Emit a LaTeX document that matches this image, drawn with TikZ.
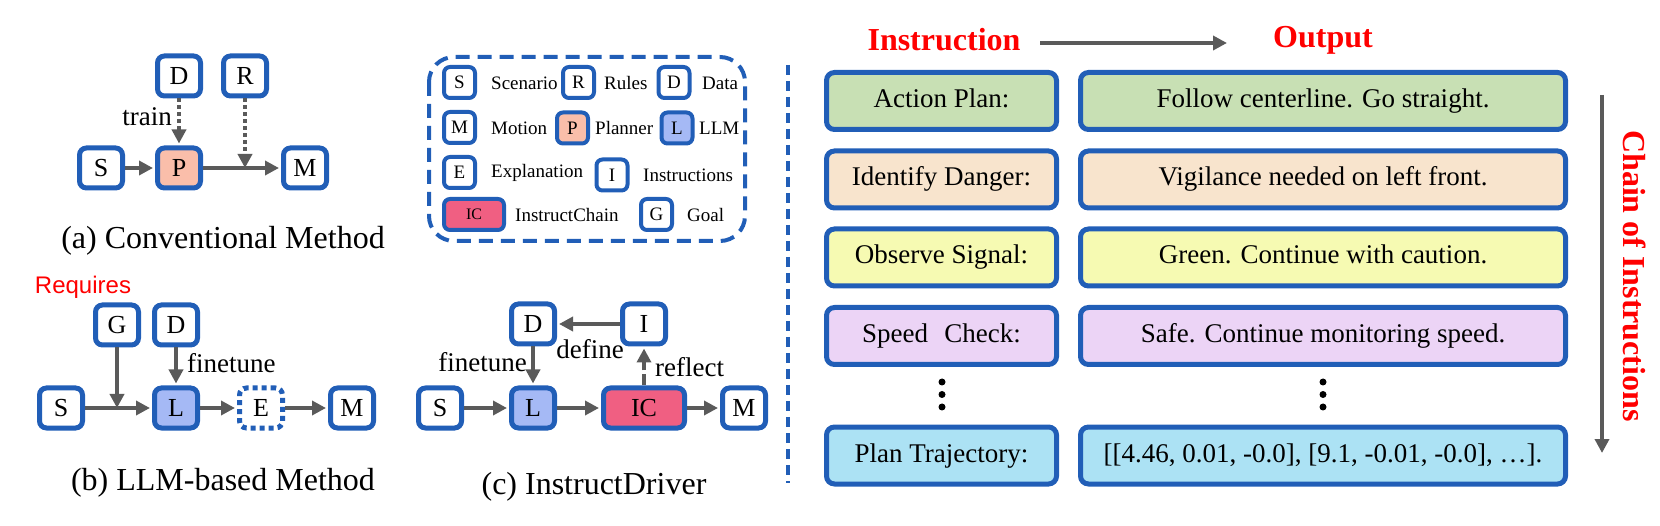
\documentclass[tikz,border=0pt]{standalone}
\usepackage{fontspec}
\setmainfont{Liberation Serif}
\newfontfamily\sansfam{Liberation Sans}
\usetikzlibrary{arrows.meta}
\definecolor{bblue}{RGB}{33,94,183}
\definecolor{agray}{RGB}{90,90,90}
\definecolor{psalmon}{RGB}{250,190,170}
\definecolor{llmblue}{RGB}{165,185,245}
\definecolor{icpink}{RGB}{240,95,130}
\definecolor{rgreen}{RGB}{200,224,180}
\definecolor{rpeach}{RGB}{248,228,205}
\definecolor{ryellow}{RGB}{246,250,178}
\definecolor{rlav}{RGB}{236,212,246}
\definecolor{rcyan}{RGB}{172,226,244}
\definecolor{hred}{RGB}{255,0,0}
\begin{document}
\begin{tikzpicture}[x=1pt,y=-1pt,
 box/.style={draw=bblue, line width=5pt, rounded corners=7pt, fill=white, minimum width=43pt, minimum height=40pt, inner sep=0pt, font=\fontsize{26}{28}\selectfont},
 lbox/.style={draw=bblue, line width=4pt, rounded corners=6pt, fill=white, minimum width=31pt, minimum height=31pt, inner sep=0pt, font=\fontsize{19}{21}\selectfont},
 ltext/.style={anchor=west, inner sep=0pt, font=\fontsize{19}{21}\selectfont},
 lbl/.style={inner sep=0pt, font=\fontsize{27}{29}\selectfont},
 captxt/.style={inner sep=0pt, font=\fontsize{32}{34}\selectfont},
 arr/.style={draw=agray, line width=4pt, -{Triangle[length=14pt,width=14pt]}, shorten >=2pt},
 dotline/.style={dash pattern=on 4pt off 3pt},
 rowbox/.style={draw=bblue, line width=5pt, rounded corners=8pt, minimum height=57pt, inner sep=0pt, text height=19pt, text depth=6pt, font=\fontsize{27}{29}\selectfont},
 hdtxt/.style={inner sep=0pt, text=hred, font=\bfseries\fontsize{32}{34}\selectfont},
]
\useasboundingbox (0,0) rectangle (1660,526);

% ---------- (a) ----------
\node[box] (aD) at (179,76) {D};
\node[box] (aR) at (245,76) {R};
\node[box] (aS) at (101,168) {S};
\node[box,fill=psalmon] (aP) at (179,168) {P};
\node[box] (aM) at (305,168) {M};
\coordinate (aJ) at (245,168);
\draw[arr] (aS) -- (aP);
\draw[arr] (aP) -- (aM);
\draw[arr,dotline] (aD) -- (aP);
\draw[arr,dotline,shorten >=0pt] (aR) -- (aJ);
\node[lbl,anchor=east] (atrain) at (172,117) {train};
\node[captxt] (acap) at (223,241) {(a) Conventional Method};

% ---------- (b) ----------
\node[inner sep=0pt,text=hred,font=\sansfam\fontsize{24}{26}\selectfont] (breq) at (83,287) {Requires};
\node[box] (bG) at (117,325) {G};
\node[box] (bD) at (176,325) {D};
\node[box] (bS) at (61,408) {S};
\node[box,fill=llmblue] (bL) at (176,408) {L};
\node[box,dash pattern=on 5pt off 4pt] (bE) at (261,408) {E};
\node[box] (bM) at (352,408) {M};
\coordinate (bJ) at (117,408);
\draw[arr] (bS) -- (bL);
\draw[arr,shorten >=0pt] (bG) -- (bJ);
\draw[arr] (bD) -- (bL);
\draw[arr] (bL) -- (bE);
\draw[arr] (bE) -- (bM);
\node[lbl,anchor=west] (bft) at (187,363) {finetune};
\node[captxt] (bcap) at (223,483) {(b) LLM-based Method};

% ---------- (c) ----------
\node[box] (cD) at (533,324) {D};
\node[box] (cI) at (644,324) {I};
\node[box] (cS) at (440,408) {S};
\node[box,fill=llmblue] (cL) at (533,408) {L};
\node[box,fill=icpink,minimum width=81pt] (cIC) at (644,408) {IC};
\node[box] (cM) at (744,408) {M};
\draw[arr] (cI) -- (cD);
\draw[arr] (cD) -- (cL);
\draw[arr] (cS) -- (cL);
\draw[arr] (cL) -- (cIC);
\draw[arr] (cIC) -- (cM);
\draw[arr,dash pattern=on 11pt off 4pt] (cIC) -- (cI);
\node[lbl,anchor=east] (cft) at (527,362) {finetune};
\node[lbl] (cdef) at (590,349) {define};
\node[lbl,anchor=west] (cref) at (655,367) {reflect};
\node[captxt] (ccap) at (594,487) {(c) InstructDriver};

% ---------- legend ----------
\draw[bblue,line width=4pt,dash pattern=on 14pt off 8pt,rounded corners=25pt] (429,57) rectangle (745,241);
\node[lbox] (kS) at (459.5,82.5) {S};
\node[ltext] (tS) at (491,83) {Scenario};
\node[lbox] (kR) at (578.5,82.5) {R};
\node[ltext] (tR) at (604,83) {Rules};
\node[lbox] (kD) at (674,82.5) {D};
\node[ltext] (tD) at (702,83) {Data};
\node[lbox] (kM) at (459.5,127.5) {M};
\node[ltext] (tM) at (491,128) {Motion};
\node[lbox,fill=psalmon] (kP) at (572.5,128) {P};
\node[ltext] (tP) at (595,128) {Planner};
\node[lbox,fill=llmblue] (kL) at (677,128) {L};
\node[ltext] (tL) at (699,128) {LLM};
\node[lbox] (kE) at (459.5,172.5) {E};
\node[ltext] (tE) at (491,173) {Explanation};
\node[lbox] (kI) at (612,175) {I};
\node[ltext] (tI) at (643,175) {Instructions};
\node[lbox,fill=icpink,minimum width=60pt,font=\fontsize{16}{18}\selectfont] (kIC) at (474,214.5) {IC};
\node[ltext] (tIC) at (515,215) {InstructChain};
\node[lbox] (kG) at (656.5,214.5) {G};
\node[ltext] (tG) at (687,215) {Goal};

% ---------- separator ----------
\draw[bblue,line width=4pt,dash pattern=on 10pt off 6pt] (788,65) -- (788,483);

% ---------- right part ----------
\node[hdtxt] (hin) at (944,40) {Instruction};
\node[hdtxt] (hout) at (1323,40) {Output};
\coordinate (ha) at (1040,43);
\coordinate (hb) at (1227,43);
\draw[arr,shorten >=0pt] (ha) -- (hb);

\node[rowbox,fill=rgreen,minimum width=230pt] (l1) at (941.5,101) {Action Plan:};
\node[rowbox,fill=rgreen,minimum width=485pt] (r1) at (1323,101) {Follow centerline. Go straight.};
\node[rowbox,fill=rpeach,minimum width=230pt] (l2) at (941.5,179.5) {Identify Danger:};
\node[rowbox,fill=rpeach,minimum width=485pt] (r2) at (1323,179.5) {Vigilance needed on left front.};
\node[rowbox,fill=ryellow,minimum width=230pt] (l3) at (941.5,257.5) {Observe Signal:};
\node[rowbox,fill=ryellow,minimum width=485pt] (r3) at (1323,257.5) {Green. Continue with caution.};
\node[rowbox,fill=rlav,minimum width=230pt] (l4) at (941.5,336) {Speed\hspace{0.35em} Check:};
\node[rowbox,fill=rlav,minimum width=485pt] (r4) at (1323,336) {Safe. Continue monitoring speed.};
\node[rowbox,fill=rcyan,minimum width=230pt] (l5) at (941.5,455.5) {Plan Trajectory:};
\node[rowbox,fill=rcyan,minimum width=485pt] (r5) at (1323,455.5) {[[4.46, 0.01, -0.0], [9.1, -0.01, -0.0], \dots].};

\foreach \yy in {382,394.5,407}{
  \fill (942,\yy) circle (3.5pt);
  \fill (1323,\yy) circle (3.5pt);
}

\coordinate (va) at (1602,95);
\coordinate (vb) at (1602,453);
\draw[arr,shorten >=0pt] (va) -- (vb);
\node[hdtxt,rotate=-90] (chain) at (1635,276) {Chain of Instructions};
\end{tikzpicture}
\end{document}
